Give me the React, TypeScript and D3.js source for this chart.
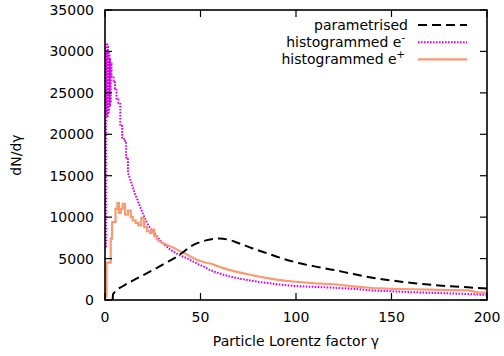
import React from "react";
import * as d3 from "d3";

const W = 504;
const H = 356;
const margin = { left: 105, right: 17, top: 10, bottom: 56 };

const xTicks = [0, 50, 100, 150, 200];
const yTicks = [0, 5000, 10000, 15000, 20000, 25000, 30000, 35000];

// parametrised (smooth)
const paramGamma = [4, 4.2, 10, 15, 20, 27, 32, 37.6, 41, 44.6, 50, 55, 60, 65, 70, 77, 85, 93, 102, 111, 120, 128, 137, 146, 155, 163, 172, 181, 190, 200];
const paramVal = [0, 700, 1750, 2400, 3000, 3860, 4500, 5230, 5800, 6430, 7000, 7300, 7420, 7250, 6850, 6250, 5630, 5000, 4430, 4000, 3620, 3230, 2810, 2480, 2210, 2000, 1810, 1650, 1530, 1380];

// histogrammed e- (bin starts, values)
const eGamma = [0, 0.6, 0.8, 1.0, 1.2, 1.4, 1.6, 1.8, 2.0, 2.2, 2.4, 2.6, 2.8, 3.0, 3.4, 4.5, 5.2, 6.0, 7.0, 8.0, 9.0, 10, 11, 12, 13, 14, 15, 16, 17, 18, 19, 20, 21, 22, 23, 24, 25, 26, 27, 28, 30, 32, 34, 36, 38, 40, 43, 46, 49, 52, 55, 58, 62, 66, 70, 75, 80, 85, 90, 95, 100, 110, 120, 130, 140, 150, 160, 170, 180, 190, 198, 200];
const eVal = [6500, 30000, 22500, 31000, 22200, 30500, 22600, 30000, 23000, 29500, 23500, 29000, 24000, 28500, 27000, 26500, 25500, 24200, 23800, 21000, 19600, 19200, 17200, 15400, 14700, 14000, 13300, 12600, 12100, 11500, 10900, 10300, 9800, 9300, 8900, 8600, 8300, 8050, 7750, 7450, 6900, 6500, 6100, 5800, 5550, 5300, 5050, 4650, 4300, 4000, 3620, 3350, 3050, 2800, 2600, 2400, 2200, 2050, 1900, 1780, 1680, 1580, 1480, 1350, 1150, 1050, 950, 870, 800, 720, 620, 620];

// histogrammed e+ (bin starts, values)
const pGamma = [0, 0.8, 3.0, 3.7, 5.5, 6.5, 7.3, 8.3, 9.2, 10.5, 12.0, 13.5, 14.5, 16.0, 17.5, 19.0, 20.5, 22.0, 23.5, 24.5, 25.8, 27, 28.5, 30, 32, 34, 36, 38, 40, 42, 44, 46, 48, 50, 53, 56, 60, 64, 68, 72, 76, 80, 85, 90, 95, 100, 110, 120, 130, 140, 150, 160, 170, 180, 190, 196, 200];
const pVal = [400, 4500, 7400, 9400, 11000, 11700, 10500, 11000, 11600, 10300, 10800, 10000, 9600, 9300, 9000, 9900, 8800, 8300, 8100, 8500, 7700, 7400, 7100, 6900, 6700, 6500, 6300, 6050, 5800, 5600, 5350, 5100, 4850, 4700, 4500, 4350, 4000, 3700, 3450, 3250, 3050, 2850, 2650, 2450, 2300, 2200, 2000, 1900, 1650, 1450, 1350, 1300, 1250, 1200, 1150, 900, 900];

// below these gamma values the histogram bins are drawn as visible steps
const eStepUntil = 12;
const pStepUntil = 27;

const legendLabels = ["parametrised", "histogrammed e", "histogrammed e"];
const legendSup = ["", "-", "+"];

const FONT = "'DejaVu Sans', sans-serif";

export default function App() {
  const x = d3.scaleLinear().domain([0, 200]).range([margin.left, W - margin.right]);
  const y = d3.scaleLinear().domain([0, 35000]).range([H - margin.bottom, margin.top]);

  const zip = (gs: number[], vs: number[]) => gs.map((g, i) => [g, vs[i]] as [number, number]);

  const smooth = d3.line<[number, number]>().x(d => x(d[0])).y(d => y(d[1])).curve(d3.curveMonotoneX);
  const step = d3.line<[number, number]>().x(d => x(d[0])).y(d => y(d[1])).curve(d3.curveStepAfter);
  const lin = d3.line<[number, number]>().x(d => x(d[0])).y(d => y(d[1]));

  const histPath = (gs: number[], vs: number[], until: number) => {
    const pts = zip(gs, vs);
    const head = pts.filter(p => p[0] <= until);
    const tail = pts.filter(p => p[0] >= until);
    return (step(head) || "") + (lin(tail) || "").replace(/^M/, "L");
  };

  const x0 = x(0), x1 = x(200), y0 = y(0), y1 = y(35000);
  const tl = 7;

  const styles = [
    { stroke: "#000", dash: "9,5", width: 2 },
    { stroke: "#d800ec", dash: "1.6,1.4", width: 2 },
    { stroke: "#fa9a72", dash: "", width: 2.2 },
  ];

  return (
    <svg width={W} height={H} style={{ position: "absolute", left: 0, top: 0, background: "#fff" }} fontFamily={FONT}>
      <defs>
        <clipPath id="plotclip">
          <rect x={x0} y={y1} width={x1 - x0} height={y0 - y1} />
        </clipPath>
      </defs>
      <rect x={0} y={0} width={W} height={H} fill="#fff" />
      <g clipPath="url(#plotclip)" fill="none">
        <path d={histPath(eGamma, eVal, eStepUntil)} stroke={styles[1].stroke} strokeWidth={styles[1].width} strokeDasharray={styles[1].dash} />
        <path d={histPath(pGamma, pVal, pStepUntil)} stroke={styles[2].stroke} strokeWidth={styles[2].width} />
        <path d={smooth(zip(paramGamma, paramVal)) || ""} stroke={styles[0].stroke} strokeWidth={styles[0].width} strokeDasharray={styles[0].dash} />
      </g>
      {/* ticks */}
      <g stroke="#000" strokeWidth={1.2}>
        {yTicks.map(t => (
          <g key={"y" + t}>
            <line x1={x0} x2={x0 + tl} y1={y(t)} y2={y(t)} />
            <line x1={x1} x2={x1 - tl} y1={y(t)} y2={y(t)} />
          </g>
        ))}
        {xTicks.map(t => (
          <g key={"x" + t}>
            <line x1={x(t)} x2={x(t)} y1={y0} y2={y0 - tl} />
            <line x1={x(t)} x2={x(t)} y1={y1} y2={y1 + tl} />
          </g>
        ))}
      </g>
      <rect x={x0} y={y1} width={x1 - x0} height={y0 - y1} fill="none" stroke="#000" strokeWidth={1.6} />
      {/* tick labels */}
      <g fontSize={14} fill="#000">
        {yTicks.map(t => (
          <text key={"yl" + t} x={x0 - 11} y={y(t) + 5} textAnchor="end">{t}</text>
        ))}
        {xTicks.map(t => (
          <text key={"xl" + t} x={x(t)} y={y0 + 22} textAnchor="middle">{t}</text>
        ))}
        <text x={(x0 + x1) / 2} y={y0 + 46} textAnchor="middle">Particle Lorentz factor γ</text>
        <text transform={`translate(21,${(y0 + y1) / 2}) rotate(-90)`} textAnchor="middle">dN/dγ</text>
      </g>
      {/* legend */}
      <g fontSize={14} fill="#000">
        {legendLabels.map((lab, i) => {
          const cy = 25 + i * 17.2;
          const st = styles[i];
          return (
            <g key={"lg" + i}>
              <text x={legendSup[i] ? 405 : 408} y={cy + 5} textAnchor="end">
                {lab}
                {legendSup[i] ? <tspan fontSize={10} dy={-6}>{legendSup[i]}</tspan> : null}
              </text>
              <line x1={418} x2={467} y1={cy} y2={cy} stroke={st.stroke} strokeWidth={st.width} strokeDasharray={st.dash || undefined} />
            </g>
          );
        })}
      </g>
    </svg>
  );
}
